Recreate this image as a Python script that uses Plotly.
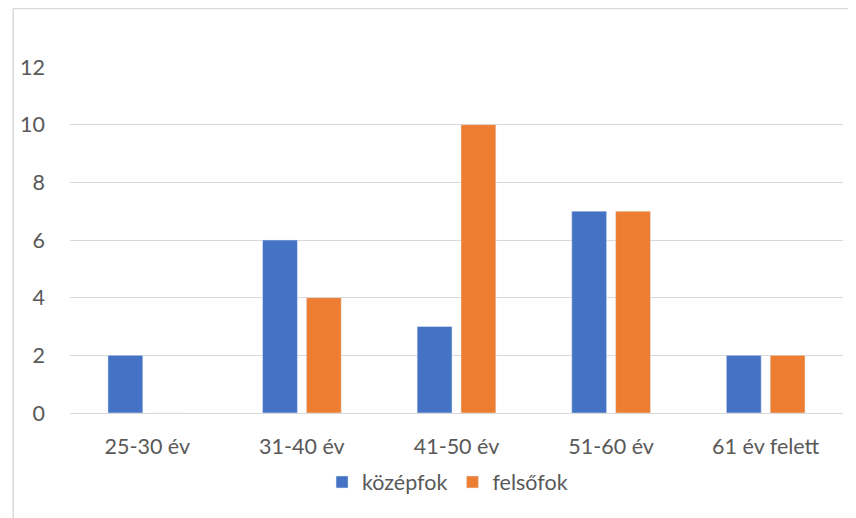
import plotly.graph_objects as go

categories = ["25-30 év", "31-40 év", "41-50 év", "51-60 év", "61 év felett"]
kozepfok = [2, 6, 3, 7, 2]
felsofok = [0, 4, 10, 7, 2]
y_ticks = [0, 2, 4, 6, 8, 10, 12]

OFF = 8  # page body margin
W, H = 856 - OFF, 518 - OFF
# target screen positions of the plot area: x 67..843, y 67..413
L, R, T, B = 67 - OFF, 856 - 843, 67 - OFF, 518 - 413
pw, ph = W - L - R, H - T - B

def px_x(sx):
    return (sx - OFF - L) / pw

def px_y(sy):
    return (H - B - (sy - OFF)) / ph

FONT = "Lato"
GRAY = "#595959"
FS = 21.5

fig = go.Figure()
fig.add_trace(go.Bar(name="középfok", x=categories, y=kozepfok, marker_color="#4472C4"))
fig.add_trace(go.Bar(name="felsőfok", x=categories, y=felsofok, marker_color="#ED7D31"))

fig.update_layout(
    width=W, height=H,
    margin=dict(l=L, r=R, t=T, b=B),
    paper_bgcolor="white", plot_bgcolor="white",
    barmode="group", bargap=0.433, bargroupgap=0.205,
    font=dict(family=FONT, size=FS, color=GRAY),
    legend=dict(orientation="h", x=px_x(446), xanchor="center", y=px_y(482), yanchor="middle",
                font=dict(size=FS, color=GRAY), itemwidth=30, traceorder="normal"),
    showlegend=True,
)
fig.update_yaxes(range=[0, 12], tickvals=y_ticks, showgrid=True, gridcolor="#D9D9D9", gridwidth=1,
                 zeroline=False, showline=False, ticks="", ticklabelstandoff=24,
                 tickfont=dict(size=FS, color=GRAY))
fig.update_xaxes(showgrid=False, showline=True, linecolor="#D9D9D9", linewidth=1, ticks="",
                 ticklabelstandoff=14, tickfont=dict(size=FS, color=GRAY))

# chart border (top and left visible)
fig.add_shape(type="line", xref="paper", yref="paper", x0=px_x(10), x1=px_x(860),
              y0=px_y(8.5), y1=px_y(8.5), line=dict(color="#D9D9D9", width=1.5))
fig.add_shape(type="line", xref="paper", yref="paper", x0=px_x(10), x1=px_x(10),
              y0=px_y(8.5), y1=px_y(525), line=dict(color="#D9D9D9", width=1.5))

fig.write_html("out.html")
